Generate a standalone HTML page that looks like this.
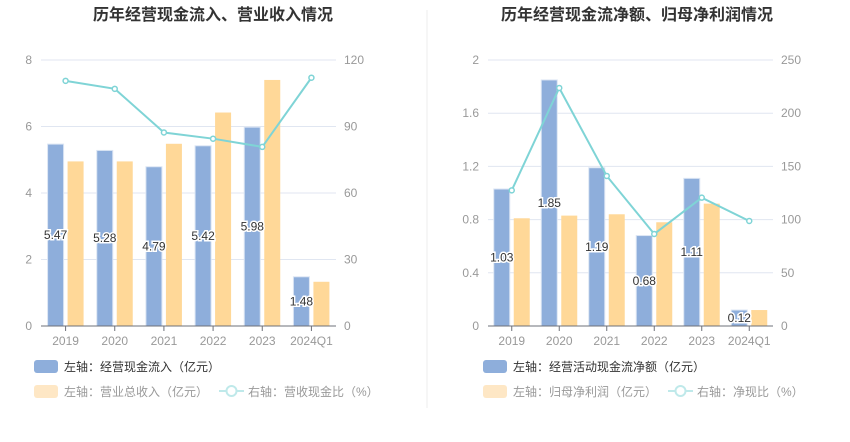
<!DOCTYPE html>
<html><head><meta charset="utf-8"><style>
body{margin:0;background:#fff;font-family:"Liberation Sans","Noto Sans CJK SC",sans-serif;}
svg text{font-family:"Liberation Sans","Noto Sans CJK SC",sans-serif;}
</style></head><body>
<svg id="c" width="850" height="437" xmlns="http://www.w3.org/2000/svg">
<rect width="850" height="437" fill="#fff"/>
<line x1="427" y1="10" x2="427" y2="408" stroke="#eeeeee"/>
</svg>
<script>
const categories=["2019","2020","2021","2022","2023","2024Q1"];
const leftInflow=[5.47,5.28,4.79,5.42,5.98,1.48];
const leftRevenue=[4.95,4.95,5.48,6.42,7.40,1.33];
const leftRatio=[110.6,107,87.3,84.5,80.8,112];
const leftTicksL=[0,2,4,6,8];
const leftTicksR=[0,30,60,90,120];
const rightNetCash=[1.03,1.85,1.19,0.68,1.11,0.12];
const rightProfit=[0.81,0.83,0.84,0.78,0.92,0.12];
const rightRatio=[127.5,223.7,141,86.5,120.6,98.7];
const rightTicksL=[0,0.4,0.8,1.2,1.6,2];
const rightTicksLLabels=["0","0.4","0.8","1.2","1.6","2"];
const rightTicksR=[0,50,100,150,200,250];

const NS="http://www.w3.org/2000/svg";
const svg=document.getElementById('c');
function mk(tag,attrs,parent,txt){const e=document.createElementNS(NS,tag);for(const k in attrs)e.setAttribute(k,attrs[k]);if(txt!==undefined)e.textContent=txt;(parent||svg).appendChild(e);return e;}

function chart(o){
  const g=mk('g',{});
  
  
  const top=60,bot=326,x0=o.x0,x1=o.x1;
  const lmax=o.tl[o.tl.length-1],rmax=o.tr[o.tr.length-1];
  const yL=v=>bot-(v/lmax)*(bot-top);
  const yR=v=>bot-(v/rmax)*(bot-top);
  const cw=(x1-x0)/categories.length;
  const cx=i=>x0+cw*(i+0.5);
  const t=mk('text',{x:o.tx,y:20,'text-anchor':'middle','font-size':16,'font-weight':'bold',fill:'#333'},g,o.title);
  
  o.tl.forEach((v,i)=>{
    const y=yL(v);
    if(i>0){const l=mk('line',{x1:x0,x2:x1,y1:y,y2:y,stroke:'#e0e6f1'},g);}
    const a=mk('text',{x:x0-9,y:y+4,'text-anchor':'end','font-size':12,fill:'#999'},g,o.tll[i]);
    
  });
  o.tr.forEach(v=>{
    const b=mk('text',{x:x1+8,y:yR(v)+4,'text-anchor':'start','font-size':12,fill:'#999'},g,String(v));
    
  });
  categories.forEach((c,i)=>{
    const bw=16;
    const by=yL(o.a[i]);
    const r1=mk('rect',{x:cx(i)-bw-2,y:by,width:bw,height:bot-by,fill:'#8eaedb',stroke:'#dbe5f4','stroke-width':1},g);
    
    const yy=yL(o.b[i]);
    const r2=mk('rect',{x:cx(i)+2,y:yy,width:bw,height:bot-yy,fill:'#ffd898'},g);
    
    const tk=mk('line',{x1:cx(i),x2:cx(i),y1:bot,y2:bot+5,stroke:'#6e7079'},g);
    
    const xl=mk('text',{x:cx(i),y:bot+19,'text-anchor':'middle','font-size':12,fill:'#999'},g,c);
    
  });
  const ax=mk('line',{x1:x0,x2:x1,y1:bot,y2:bot,stroke:'#6e7079'},g);
  
  let pts=categories.map((c,i)=>(cx(i))+','+yR(o.r[i])).join(' ');
  const pl=mk('polyline',{points:pts,fill:'none',stroke:'#7fd4d6','stroke-width':2},g);
  
  categories.forEach((c,i)=>{
    const p=mk('circle',{cx:cx(i),cy:yR(o.r[i]),r:2.5,fill:'#fff',stroke:'#7fd4d6','stroke-width':1.5},g);
    
  });
  categories.forEach((c,i)=>{
    const bx=cx(i)-10, by=(yL(o.a[i])+bot)/2+4;
    const lb=mk('text',{x:bx,y:by,'text-anchor':'middle','font-size':12,fill:'#333',stroke:'#fff','stroke-width':3,'paint-order':'stroke'},g,o.a[i].toFixed(2));
    
  });
  const L=o.lx;
  const i1=mk('rect',{x:L,y:360,width:24,height:13,rx:3,fill:'#8eaedb'},g);
  
  const t1=mk('text',{x:L+30,y:371,'font-size':12,fill:'#333'},g,o.l1);
  
  const i2=mk('rect',{x:L,y:385,width:24,height:13,rx:3,fill:'#fee7c5'},g);
  
  const t2=mk('text',{x:L+30,y:396,'font-size':12,fill:'#999'},g,o.l2);
  
  const li=mk('line',{x1:o.l3x,x2:o.l3x+25,y1:391,y2:391,stroke:'#bfe9ea','stroke-width':2},g);
  
  const lc=mk('circle',{cx:o.l3x+12.5,cy:391,r:5,fill:'#fff',stroke:'#bfe9ea','stroke-width':2},g);
  
  const t3=mk('text',{x:o.l3x+29,y:396,'font-size':12,fill:'#999'},g,o.l3);
  
}
chart({name:'left-chart',title:'历年经营现金流入、营业收入情况',tx:213,x0:41,x1:336,a:leftInflow,b:leftRevenue,r:leftRatio,tl:leftTicksL,tll:leftTicksL.map(String),tr:leftTicksR,lx:34,l1:'左轴：经营现金流入（亿元）',l2:'左轴：营业总收入（亿元）',l3x:219,l3:'右轴：营收现金比（%）'});
chart({name:'right-chart',title:'历年经营现金流净额、归母净利润情况',tx:637,x0:488,x1:773,a:rightNetCash,b:rightProfit,r:rightRatio,tl:rightTicksL,tll:rightTicksLLabels,tr:rightTicksR,lx:483,l1:'左轴：经营活动现金流净额（亿元）',l2:'左轴：归母净利润（亿元）',l3x:668,l3:'右轴：净现比（%）'});
</script>
</body></html>
